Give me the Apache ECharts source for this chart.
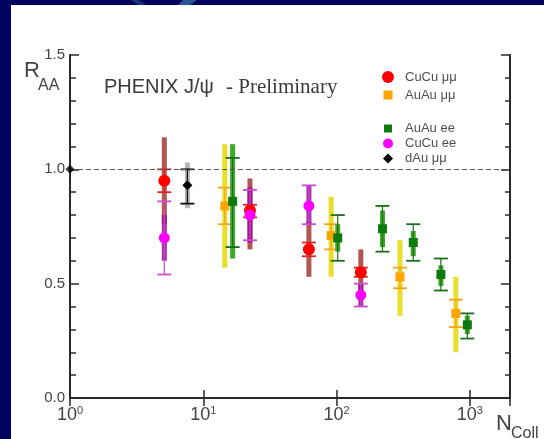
<!DOCTYPE html>
<html>
<head>
<meta charset="utf-8">
<script src="https://cdn.jsdelivr.net/npm/echarts@6/dist/echarts.min.js"></script>
<style>
  html, body { margin: 0; padding: 0; background: #02035f; }
  #chart { width: 544px; height: 439px; }
</style>
</head>
<body>
<div id="chart"></div>
<script>
// Each row: [N_coll, R_AA, band low, band high, cap low, cap high]
const cucuMuMu = [
  [5.1, 0.95, 0.76, 1.14, 0.90, 1.00],
  [22.4, 0.82, 0.65, 0.96, 0.79, 0.845],
  [62, 0.65, 0.53, 0.77, 0.62, 0.68],
  [152, 0.55, 0.45, 0.65, 0.53, 0.57]
];
const auauMuMu = [
  [14.5, 0.84, 0.57, 1.11, 0.76, 0.92],
  [91, 0.71, 0.53, 0.88, 0.65, 0.76],
  [299, 0.53, 0.36, 0.69, 0.48, 0.57],
  [785, 0.37, 0.20, 0.53, 0.31, 0.43]
];
const auauEE = [
  [16.6, 0.86, 0.61, 1.11, 0.66, 1.05],
  [102, 0.70, 0.64, 0.76, 0.60, 0.80],
  [221, 0.74, 0.66, 0.82, 0.64, 0.84],
  [376, 0.68, 0.62, 0.73, 0.60, 0.76],
  [606, 0.54, 0.49, 0.58, 0.47, 0.61],
  [957, 0.32, 0.28, 0.36, 0.26, 0.37]
];
const cucuEE = [
  [5.1, 0.70, 0.60, 0.80, 0.54, 0.86],
  [22.4, 0.80, 0.68, 0.92, 0.69, 0.91],
  [62, 0.84, 0.76, 0.93, 0.76, 0.93],
  [152, 0.45, 0.40, 0.50, 0.40, 0.50]
];
const dAuMuMu = [
  [7.6, 0.93, 0.83, 1.03, 0.85, 1.00]
];
// reference point on the axis and the unity line
const unityPoint = [[1, 1.0]];
const unityLevel = 1.0;

const xRange = [1, 2000];
const yRange = [0, 1.5];
const yTickStep = 0.5;

const sans = '"Liberation Sans", Arial, sans-serif';
const serif = '"Liberation Serif", "Times New Roman", serif';

function errorBars(style) {
  return function (params, api) {
    const x = api.value(0);
    const p = api.coord([x, api.value(1)]);
    const bLo = api.coord([x, api.value(2)]);
    const bHi = api.coord([x, api.value(3)]);
    const cLo = api.coord([x, api.value(4)]);
    const cHi = api.coord([x, api.value(5)]);
    const bw = 5, cw = 14;
    return {
      type: 'group',
      children: [
        { type: 'rect', shape: { x: p[0] - bw / 2, y: bHi[1], width: bw, height: bLo[1] - bHi[1] },
          style: { fill: style.band, opacity: style.bandOpacity } },
        { type: 'line', shape: { x1: p[0], y1: cHi[1], x2: p[0], y2: cLo[1] },
          style: { stroke: style.cap, lineWidth: 1.2 } },
        { type: 'line', shape: { x1: p[0] - cw / 2, y1: cHi[1], x2: p[0] + cw / 2, y2: cHi[1] },
          style: { stroke: style.cap, lineWidth: 1.8 } },
        { type: 'line', shape: { x1: p[0] - cw / 2, y1: cLo[1], x2: p[0] + cw / 2, y2: cLo[1] },
          style: { stroke: style.cap, lineWidth: 1.8 } }
      ]
    };
  };
}

const sets = [
  { name: 'CuCu μμ', data: cucuMuMu, band: '#a8443e', bandOpacity: 0.9, cap: '#e02424', marker: '#ff0000', symbol: 'circle', size: 12 },
  { name: 'AuAu μμ', data: auauMuMu, band: '#e8dc1c', bandOpacity: 0.95, cap: '#f5a21e', marker: '#ffa500', symbol: 'rect', size: 9 },
  { name: 'AuAu ee', data: auauEE, band: '#32a41e', bandOpacity: 0.95, cap: '#1c6e1c', marker: '#0c7a0c', symbol: 'rect', size: 9 },
  { name: 'dAu μμ', data: dAuMuMu, band: '#b4b4b4', bandOpacity: 1, cap: '#111111', marker: '#000000', symbol: 'diamond', size: 10 },
  { name: 'CuCu ee', data: cucuEE, band: '#9a0a9a', bandOpacity: 0.85, cap: '#d04ad0', marker: '#ff00ff', symbol: 'circle', size: 11 }
];

const series = [];
sets.forEach(s => {
  series.push({
    type: 'custom', name: s.name + ' err', data: s.data, encode: { x: 0, y: 1 },
    renderItem: errorBars(s), z: 2, silent: true
  });
});
sets.forEach(s => {
  series.push({
    type: 'scatter', name: s.name, data: s.data.map(r => [r[0], r[1]]),
    symbol: s.symbol, symbolSize: s.size, itemStyle: { color: s.marker, opacity: 1 }, z: 4
  });
});
series.push({
  type: 'scatter', name: 'unity', data: unityPoint, symbol: 'diamond', symbolSize: 9,
  itemStyle: { color: '#000' }, clip: false, z: 5,
  markLine: {
    silent: true, symbol: 'none', label: { show: false },
    lineStyle: { color: '#555', width: 1, type: [5, 3] },
    data: [{ yAxis: unityLevel }]
  }
});

const frame = { show: true, lineStyle: { color: '#2a2a2a', width: 2 } };
const xLabel = {
  formatter: v => '{b|10}{s|' + Math.round(Math.log10(v)) + '}',
  margin: 7,
  showMaxLabel: false,
  rich: {
    b: { fontSize: 18, color: '#444', fontFamily: sans },
    s: { fontSize: 11, color: '#444', fontFamily: sans, padding: [0, 0, 9, 0] }
  }
};

// legend drawn at the upper right of the frame
const legendRows = [
  { label: 'CuCu μμ', y: 77, shape: 'circle', color: '#ff0000', r: 6 },
  { label: 'AuAu μμ', y: 95, shape: 'rect', color: '#ffa500', r: 4.5 },
  { label: 'AuAu ee', y: 128.5, shape: 'rect', color: '#0c7a0c', r: 4 },
  { label: 'CuCu ee', y: 143.5, shape: 'circle', color: '#ff00ff', r: 5 },
  { label: 'dAu μμ', y: 158.5, shape: 'diamond', color: '#000000', r: 5 }
];
const legendX = 388;
const legendGraphics = [];
legendRows.forEach(row => {
  let g;
  if (row.shape === 'circle') {
    g = { type: 'circle', shape: { cx: legendX, cy: row.y, r: row.r }, style: { fill: row.color } };
  } else if (row.shape === 'rect') {
    g = { type: 'rect', shape: { x: legendX - row.r, y: row.y - row.r, width: 2 * row.r, height: 2 * row.r }, style: { fill: row.color } };
  } else {
    g = { type: 'polygon', shape: { points: [[legendX, row.y - row.r], [legendX + row.r, row.y], [legendX, row.y + row.r], [legendX - row.r, row.y]] }, style: { fill: row.color } };
  }
  legendGraphics.push(g);
  legendGraphics.push({
    type: 'text', x: 405, y: row.y,
    style: { text: row.label, fill: '#505050', font: '13px ' + sans, verticalAlign: 'middle' }
  });
});

const chart = echarts.init(document.getElementById('chart'), null, { renderer: 'canvas' });
chart.setOption({
  animation: false,
  backgroundColor: '#02035f',
  grid: { left: 70, top: 55, right: 34, bottom: 41 },
  xAxis: [
    { type: 'log', logBase: 10, min: xRange[0], max: xRange[1], position: 'bottom',
      axisLine: frame, axisTick: { inside: true, length: 8, lineStyle: { color: '#2a2a2a', width: 1.5 } },
      splitLine: { show: false }, axisLabel: xLabel },
    { type: 'log', logBase: 10, min: xRange[0], max: xRange[1], position: 'top',
      axisLine: frame, axisTick: { inside: true, length: 8, lineStyle: { color: '#2a2a2a', width: 1.5 } },
      splitLine: { show: false }, axisLabel: { show: false } }
  ],
  yAxis: [
    { type: 'value', min: yRange[0], max: yRange[1], interval: yTickStep, position: 'left',
      axisLine: frame, axisTick: { inside: true, length: 9, lineStyle: { color: '#2a2a2a', width: 1.5 } },
      minorTick: { show: true, splitNumber: 5, length: 6, lineStyle: { color: '#2a2a2a', width: 1.5 } },
      splitLine: { show: false }, minorSplitLine: { show: false },
      axisLabel: { formatter: v => v.toFixed(1), fontSize: 15, color: '#444', fontFamily: sans, margin: 5 } },
    { type: 'value', min: yRange[0], max: yRange[1], interval: yTickStep, position: 'right',
      axisLine: frame, axisTick: { inside: true, length: 9, lineStyle: { color: '#2a2a2a', width: 1.5 } },
      minorTick: { show: true, splitNumber: 5, length: 5, lineStyle: { color: '#2a2a2a', width: 1.5 } },
      splitLine: { show: false }, axisLabel: { show: false } }
  ],
  graphic: [
    { type: 'rect', z: -10, silent: true, shape: { x: 11, y: 5, width: 533, height: 434 }, style: { fill: '#ffffff' } },
    { type: 'polygon', z: -10, silent: true, shape: { points: [[131, 0], [139, 0], [146, 5], [138, 5]] }, style: { fill: '#1a3579' } },
    { type: 'polygon', z: -10, silent: true, shape: { points: [[183, 0], [197, 0], [190, 5], [178, 5]] }, style: { fill: '#2a5593' } },
    { type: 'text', x: 24, y: 82, style: { text: 'R', font: '22px ' + sans, fill: '#444', verticalAlign: 'bottom' } },
    { type: 'text', x: 38, y: 94, style: { text: 'AA', font: '16px ' + sans, fill: '#444', verticalAlign: 'bottom' } },
    { type: 'text', x: 496, y: 435, style: { text: 'N', font: '22px ' + sans, fill: '#444', verticalAlign: 'bottom' } },
    { type: 'text', x: 511, y: 442, style: { text: 'Coll', font: '16px ' + sans, fill: '#444', verticalAlign: 'bottom' } },
    { type: 'text', x: 104, y: 87, style: { text: 'PHENIX J/ψ', font: '20px ' + sans, fill: '#3a3a3a', verticalAlign: 'middle' } },
    { type: 'text', x: 226, y: 87, style: { text: '- Preliminary', font: '21px ' + serif, fill: '#3a3a3a', verticalAlign: 'middle' } }
  ].concat(legendGraphics),
  series: series
});
</script>
</body>
</html>
